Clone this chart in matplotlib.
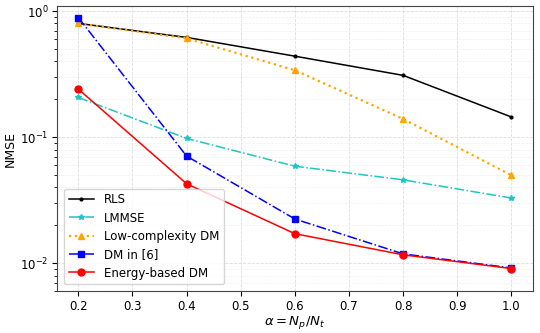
import matplotlib
matplotlib.use("Agg")
import matplotlib.pyplot as plt

alpha = [0.2, 0.4, 0.6, 0.8, 1.0]
rls = [0.80, 0.62, 0.44, 0.31, 0.145]
lmmse = [0.207, 0.098, 0.059, 0.046, 0.033]
low_dm = [0.80, 0.61, 0.34, 0.14, 0.050]
dm6 = [0.89, 0.071, 0.0225, 0.0119, 0.0092]
energy = [0.241, 0.0428, 0.0172, 0.0117, 0.0091]

fig, ax = plt.subplots(figsize=(5.4, 3.33), dpi=100)
ax.semilogy(alpha, rls, color='black', linestyle='-', marker='.', markersize=4, linewidth=1.1, label='RLS')
ax.semilogy(alpha, lmmse, color='#1fc4c4', linestyle='-.', marker='*', markersize=4, linewidth=1.1, label='LMMSE')
ax.semilogy(alpha, low_dm, color='orange', linestyle=':', marker='^', markersize=5, linewidth=1.6, label='Low-complexity DM')
ax.semilogy(alpha, dm6, color='blue', linestyle='-.', marker='s', markersize=5, linewidth=1.1, label='DM in [6]')
ax.semilogy(alpha, energy, color='red', linestyle='-', marker='o', markersize=5, linewidth=1.1, label='Energy-based DM')

ax.set_xlim(0.16, 1.04)
ax.set_ylim(0.006, 1.1)
ax.set_xticks([0.2, 0.3, 0.4, 0.5, 0.6, 0.7, 0.8, 0.9, 1.0])
ax.tick_params(labelsize=8.5, pad=2.5)
ax.grid(True, which='major', color='#dddddd', linestyle='--', linewidth=0.6)
ax.grid(True, which='minor', color='#eeeeee', linestyle='--', linewidth=0.5)
ax.set_xlabel(r'$\alpha = N_p/N_t$', fontsize=9.5, labelpad=1)
ax.set_ylabel('NMSE', fontsize=9, labelpad=2)
for s in ax.spines.values():
    s.set_color('#444444')
ax.legend(loc='lower left', fontsize=8.5, framealpha=0.8, borderaxespad=0.6,
          handlelength=2.2, labelspacing=0.45)
fig.subplots_adjust(left=0.105, right=0.987, top=0.982, bottom=0.125)
fig.savefig('out.png', dpi=100)
